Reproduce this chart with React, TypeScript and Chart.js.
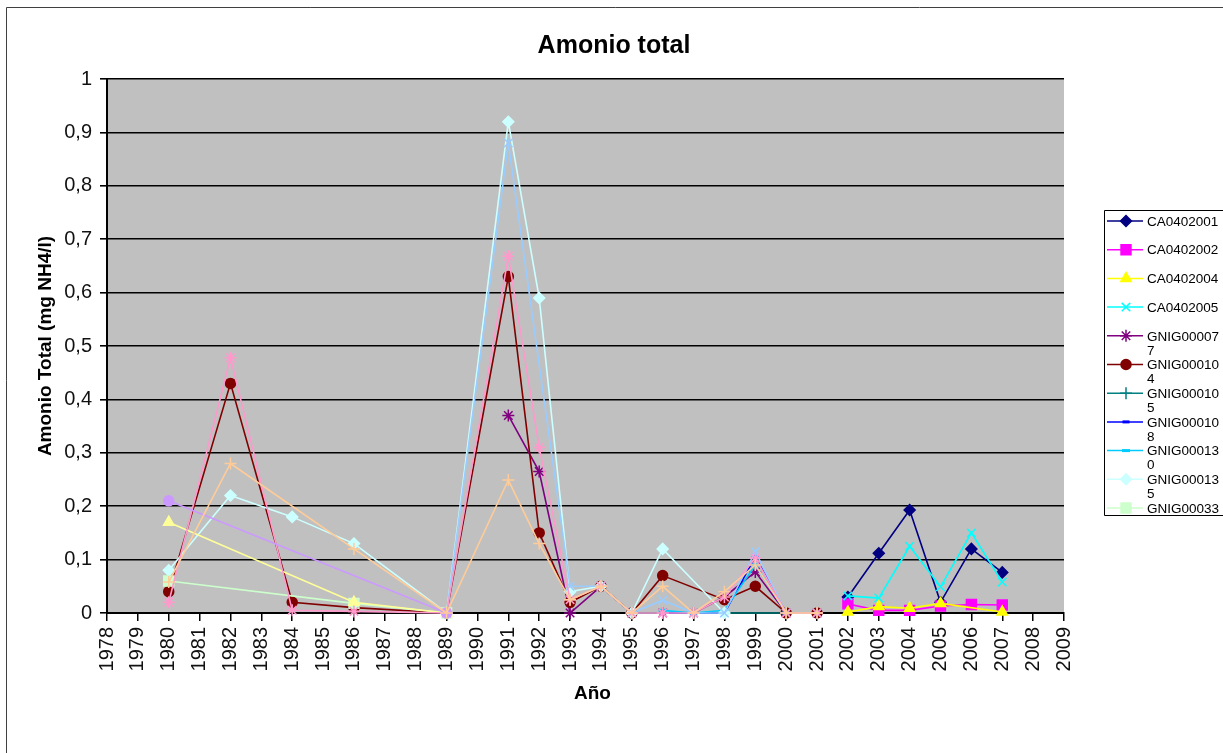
import React, { useEffect, useRef } from 'react';
import { Chart, registerables } from 'chart.js';
import { drawPoint } from 'chart.js/helpers';

Chart.register(...registerables);

type Pair = [number, number];

// Category axis: one slot per year
const YEARS: number[] = [
  1978, 1979, 1980, 1981, 1982, 1983, 1984, 1985, 1986, 1987, 1988, 1989, 1990,
  1991, 1992, 1993, 1994, 1995, 1996, 1997, 1998, 1999, 2000, 2001, 2002, 2003,
  2004, 2005, 2006, 2007, 2008, 2009,
];

const Y_TICKS: number[] = [0, 0.1, 0.2, 0.3, 0.4, 0.5, 0.6, 0.7, 0.8, 0.9, 1];

// Measurements per station: [year, mg NH4/l]
const CA0402001: Pair[] = [[2002, 0.03], [2003, 0.112], [2004, 0.193], [2005, 0.02], [2006, 0.12], [2007, 0.076]];
const CA0402002: Pair[] = [[2002, 0.017], [2003, 0.005], [2004, 0.005], [2005, 0.013], [2006, 0.016], [2007, 0.015]];
const CA0402004: Pair[] = [[2002, 0.002], [2003, 0.012], [2004, 0.009], [2005, 0.018], [2007, 0.002]];
const CA0402005: Pair[] = [[2002, 0.032], [2003, 0.028], [2004, 0.125], [2005, 0.049], [2006, 0.15], [2007, 0.058]];
const GNIG000077: Pair[] = [[1991, 0.37], [1992, 0.265], [1993, 0], [1994, 0.05], [1995, 0], [1996, 0], [1997, 0], [1998, 0.03], [1999, 0.077], [2000, 0], [2001, 0]];
const GNIG000104: Pair[] = [[1980, 0.04], [1982, 0.43], [1984, 0.02], [1986, 0.01], [1989, 0], [1991, 0.63], [1992, 0.15], [1993, 0.02], [1994, 0.05], [1995, 0], [1996, 0.07], [1998, 0.025], [1999, 0.05], [2000, 0], [2001, 0]];
const GNIG000105: Pair[] = [[1994, 0.05], [1995, 0], [2000, 0], [2001, 0]];
const GNIG000108: Pair[] = [[1996, 0], [1997, 0], [1998, 0], [1999, 0.105], [2000, 0]];
const GNIG000130: Pair[] = [[1996, 0.005], [1997, 0], [1998, 0.005], [1999, 0.09], [2000, 0]];
const GNIG000135: Pair[] = [[1980, 0.08], [1982, 0.22], [1984, 0.18], [1986, 0.13], [1989, 0], [1991, 0.92], [1992, 0.59], [1993, 0.04], [1994, 0.05], [1995, 0], [1996, 0.12], [1998, 0]];
const GNIG00033: Pair[] = [[1980, 0.06], [1986, 0.018], [1989, 0]];
const GNIG00034: Pair[] = [[1980, 0.17], [1986, 0.02], [1989, 0]];
const GNIG00035: Pair[] = [[1989, 0], [1991, 0.88], [1993, 0.05], [1994, 0.05], [1995, 0], [1996, 0.024], [1997, 0], [1998, 0], [1999, 0.115], [2000, 0], [2001, 0]];
const GNIG00036: Pair[] = [[1980, 0.02], [1982, 0.478], [1984, 0.005], [1986, 0.003], [1989, 0], [1991, 0.668], [1992, 0.31], [1993, 0.025], [1994, 0.05], [1995, 0], [1996, 0], [1997, 0], [1998, 0.03], [1999, 0.103], [2000, 0], [2001, 0]];
const GNIG00037: Pair[] = [[1980, 0.21], [1989, 0]];
const GNIG00038: Pair[] = [[1980, 0.058], [1982, 0.28], [1986, 0.12], [1989, 0], [1991, 0.249], [1992, 0.13], [1993, 0.025], [1994, 0.05], [1995, 0], [1996, 0.05], [1997, 0], [1998, 0.04], [1999, 0.09], [2000, 0], [2001, 0]];

interface SeriesDef {
  name: string;
  data: Pair[];
  color: string;
  style: string;
  radius: number;
  inLegend: boolean;
}

const SERIES: SeriesDef[] = [
  { name: 'CA0402001', data: CA0402001, color: '#000080', style: 'rectRot', radius: 5.5, inLegend: true },
  { name: 'CA0402002', data: CA0402002, color: '#FF00FF', style: 'rect', radius: 7, inLegend: true },
  { name: 'CA0402004', data: CA0402004, color: '#FFFF00', style: 'triangle', radius: 6, inLegend: true },
  { name: 'CA0402005', data: CA0402005, color: '#00FFFF', style: 'crossRot', radius: 6, inLegend: true },
  { name: 'GNIG000077', data: GNIG000077, color: '#800080', style: 'star', radius: 6, inLegend: true },
  { name: 'GNIG000104', data: GNIG000104, color: '#800000', style: 'circle', radius: 5, inLegend: true },
  { name: 'GNIG000105', data: GNIG000105, color: '#008080', style: 'cross', radius: 6, inLegend: true },
  { name: 'GNIG000108', data: GNIG000108, color: '#0000FF', style: 'line', radius: 3.5, inLegend: true },
  { name: 'GNIG000130', data: GNIG000130, color: '#00CCFF', style: 'line', radius: 4, inLegend: true },
  { name: 'GNIG000135', data: GNIG000135, color: '#CCFFFF', style: 'rectRot', radius: 5.5, inLegend: true },
  { name: 'GNIG00033', data: GNIG00033, color: '#CCFFCC', style: 'rect', radius: 7, inLegend: true },
  { name: 'GNIG00034', data: GNIG00034, color: '#FFFF99', style: 'triangle', radius: 6, inLegend: false },
  { name: 'GNIG00035', data: GNIG00035, color: '#99CCFF', style: 'crossRot', radius: 6, inLegend: false },
  { name: 'GNIG00036', data: GNIG00036, color: '#FF99CC', style: 'star', radius: 6, inLegend: false },
  { name: 'GNIG00037', data: GNIG00037, color: '#CC99FF', style: 'circle', radius: 5, inLegend: false },
  { name: 'GNIG00038', data: GNIG00038, color: '#FFCC99', style: 'cross', radius: 6, inLegend: false },
];

const FONT = '"Liberation Sans", Arial, Helvetica, sans-serif';

const toSlots = (pairs: Pair[]): (number | null)[] => {
  const slots: (number | null)[] = YEARS.map(() => null);
  pairs.forEach(([year, value]) => {
    const i = YEARS.indexOf(year);
    if (i >= 0) slots[i] = value;
  });
  return slots;
};

const formatTick = (v: number): string => {
  if (Math.abs(v) < 1e-9) return '0';
  if (Math.abs(v - 1) < 1e-9) return '1';
  return v.toFixed(1).replace('.', ',');
};

// Split a legend label into lines no wider than maxWidth (character breaks)
const wrapText = (ctx: CanvasRenderingContext2D, text: string, maxWidth: number): string[] => {
  const lines: string[] = [];
  let line = '';
  for (const ch of text) {
    if (line && ctx.measureText(line + ch).width > maxWidth) {
      lines.push(line);
      line = ch;
    } else {
      line += ch;
    }
  }
  if (line) lines.push(line);
  return lines;
};

const decorPlugin = {
  id: 'decor',
  beforeDraw(chart: any) {
    const { ctx, chartArea: a, width, height } = chart;
    ctx.save();
    ctx.fillStyle = '#ffffff';
    ctx.fillRect(0, 0, width, height);
    ctx.fillStyle = '#C0C0C0';
    ctx.fillRect(a.left, a.top, a.right - a.left, a.bottom - a.top);
    ctx.restore();
  },
  afterDraw(chart: any) {
    const { ctx, chartArea: a } = chart;
    ctx.save();

    // outer frame (right and bottom edges run past the canvas)
    ctx.strokeStyle = '#404040';
    ctx.lineWidth = 1;
    ctx.beginPath();
    ctx.moveTo(6.5, 760);
    ctx.lineTo(6.5, 7.5);
    ctx.lineTo(1230, 7.5);
    ctx.stroke();

    // title
    ctx.fillStyle = '#000';
    ctx.textAlign = 'center';
    ctx.textBaseline = 'alphabetic';
    ctx.font = `bold 25px ${FONT}`;
    ctx.fillText('Amonio total', 614, 53);

    // x axis title
    ctx.font = `bold 19px ${FONT}`;
    ctx.fillText('Año', (a.left + a.right) / 2 + 7, 699);

    // y axis title
    ctx.save();
    ctx.translate(51, (a.top + a.bottom) / 2);
    ctx.rotate(-Math.PI / 2);
    ctx.fillText('Amonio Total (mg NH4/l)', 0, 0);
    ctx.restore();

    // legend box (right edge runs past the canvas)
    const lx = 1104;
    const ly = 210;
    ctx.strokeStyle = '#000';
    ctx.lineWidth = 1;
    ctx.beginPath();
    ctx.moveTo(1230, ly + 0.5);
    ctx.lineTo(lx + 0.5, ly + 0.5);
    ctx.lineTo(lx + 0.5, ly + 305.5);
    ctx.lineTo(1230, ly + 305.5);
    ctx.stroke();

    ctx.font = `13.5px ${FONT}`;
    ctx.textAlign = 'left';
    ctx.textBaseline = 'middle';
    const legendSeries = SERIES.filter((s) => s.inLegend);
    legendSeries.forEach((s, i) => {
      const y = 221 + i * 28.7;
      ctx.strokeStyle = s.color;
      ctx.lineWidth = 1.5;
      ctx.beginPath();
      ctx.moveTo(lx + 3, y);
      ctx.lineTo(lx + 39, y);
      ctx.stroke();
      ctx.fillStyle = s.color;
      ctx.strokeStyle = s.color;
      ctx.lineWidth = s.style === 'line' ? 3 : 1.5;
      drawPoint(ctx, { pointStyle: s.style, radius: s.radius, rotation: 0, borderWidth: ctx.lineWidth } as any, lx + 22, y);
      ctx.fillStyle = '#000';
      const lines = wrapText(ctx, s.name, 74);
      lines.forEach((ln, k) => ctx.fillText(ln, lx + 43, y + 1 + k * 14));
    });

    ctx.restore();
  },
};

export default function App() {
  const canvasRef = useRef<HTMLCanvasElement | null>(null);

  useEffect(() => {
    const canvas = canvasRef.current;
    if (!canvas) return;

    const datasets = SERIES.map((s, i) => ({
      label: s.name,
      data: toSlots(s.data),
      borderColor: s.color,
      backgroundColor: s.color,
      borderWidth: 1.6,
      pointStyle: s.style,
      pointRadius: s.radius,
      pointBorderWidth: s.style === 'line' ? 3 : 1.5,
      pointBackgroundColor: s.color,
      pointBorderColor: s.color,
      spanGaps: true,
      tension: 0,
      clip: false as const,
      order: -i,
    }));

    const chart = new Chart(canvas, {
      type: 'line',
      data: { labels: YEARS.map(String), datasets },
      options: {
        responsive: false,
        animation: false,
        events: [],
        layout: { padding: { left: 0, top: 79, right: 159, bottom: 0 } },
        plugins: {
          legend: { display: false },
          title: { display: false },
          tooltip: { enabled: false },
        },
        scales: {
          x: {
            type: 'category',
            offset: false,
            afterFit: (scale: any) => {
              scale.height = 140;
            },
            grid: {
              display: true,
              drawOnChartArea: false,
              drawTicks: true,
              tickLength: 8,
              color: '#000',
              lineWidth: 1.5,
            },
            border: { display: true, color: '#000', width: 2 },
            ticks: {
              autoSkip: false,
              maxRotation: 90,
              minRotation: 90,
              padding: 6,
              color: '#111',
              font: { family: FONT, size: 20 },
            },
          },
          y: {
            type: 'linear',
            min: 0,
            max: 1,
            afterFit: (scale: any) => {
              scale.width = 107;
            },
            afterBuildTicks: (scale: any) => {
              scale.ticks = Y_TICKS.map((v) => ({ value: v }));
            },
            grid: {
              color: '#000',
              lineWidth: 1.6,
              tickLength: 7,
            },
            border: { display: true, color: '#000', width: 2 },
            ticks: {
              padding: 8,
              color: '#111',
              font: { family: FONT, size: 20 },
              callback: (v: any) => formatTick(Number(v)),
            },
          },
        },
      },
      plugins: [decorPlugin],
    } as any);

    return () => chart.destroy();
  }, []);

  return (
    <div style={{ position: 'absolute', left: 0, top: 0, width: 1223, height: 753, background: '#fff' }}>
      <canvas ref={canvasRef} width={1223} height={753} style={{ display: 'block' }} />
    </div>
  );
}
